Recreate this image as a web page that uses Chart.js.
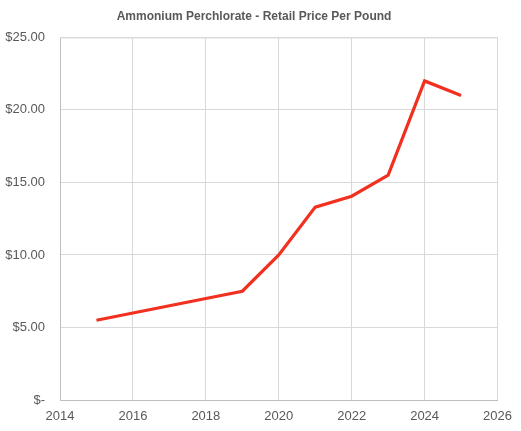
<!DOCTYPE html>
<html>
<head>
<meta charset="utf-8">
<script src="https://cdn.jsdelivr.net/npm/chart.js@4/dist/chart.umd.min.js"></script>
<style>
html,body{margin:0;padding:0;background:#fff;}
#wrap{width:521px;height:431px;position:relative;}
</style>
</head>
<body>
<div id="wrap"><canvas id="c" width="521" height="431"></canvas></div>
<script>
const years = [2015, 2016, 2017, 2018, 2019, 2020, 2021, 2022, 2023, 2024, 2025];
const prices = [5.5, 6.0, 6.5, 7.0, 7.5, 10.0, 13.3, 14.05, 15.5, 22.0, 21.0];
const titleText = "Ammonium Perchlorate - Retail Price Per Pound";

const points = years.map((y, i) => ({x: y, y: prices[i]}));

new Chart(document.getElementById('c'), {
  type: 'line',
  data: {
    datasets: [{
      data: points,
      borderColor: '#f2301f',
      borderWidth: 3.2,
      pointRadius: 0,
      tension: 0,
      fill: false
    }]
  },
  options: {
    responsive: false,
    animation: false,
    devicePixelRatio: 1,
    layout: {padding: {left: 0, right: 13, top: 0, bottom: 0}},
    plugins: {
      legend: {display: false},
      tooltip: {enabled: false},
      title: {
        display: true,
        text: titleText,
        color: '#595959',
        font: {family: 'Liberation Sans', size: 12, weight: 'bold'},
        padding: {top: 9, bottom: 14}
      }
    },
    scales: {
      x: {
        type: 'linear',
        min: 2014,
        max: 2026,
        ticks: {
          stepSize: 2,
          color: '#595959',
          font: {family: 'Liberation Sans', size: 13},
          padding: 9,
          callback: v => String(v)
        },
        grid: {color: '#d9d9d9', drawTicks: false},
        border: {color: '#bfbfbf'},
        afterFit: s => { s.height = 31; }
      },
      y: {
        min: 0,
        max: 25,
        ticks: {
          stepSize: 5,
          color: '#595959',
          font: {family: 'Liberation Sans', size: 13},
          padding: 15,
          callback: v => v === 0 ? '$-' : '$' + v.toFixed(2)
        },
        grid: {color: '#d9d9d9', drawTicks: false},
        border: {color: '#bfbfbf'},
        afterFit: s => { s.width = 60; }
      }
    }
  },
  plugins: [{
    id: 'frame',
    afterDraw(chart) {
      const {ctx, chartArea: a} = chart;
      ctx.save();
      ctx.strokeStyle = '#d9d9d9';
      ctx.lineWidth = 1;
      ctx.beginPath();
      ctx.moveTo(a.left, a.top + 0.5);
      ctx.lineTo(a.right, a.top + 0.5);
      ctx.stroke();
      ctx.restore();
    }
  }]
});
</script>
</body>
</html>
